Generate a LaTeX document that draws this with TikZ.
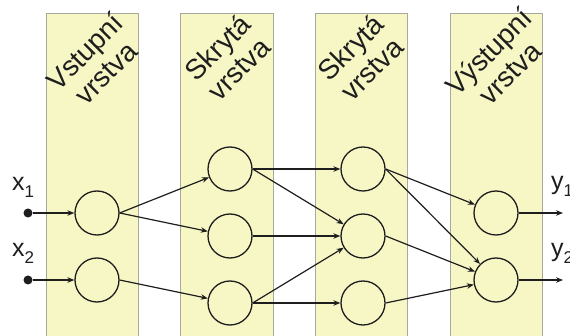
\documentclass[tikz,border=0pt]{standalone}
\usepackage{fontspec}
\setmainfont{Liberation Sans}
\usetikzlibrary{arrows.meta}
\definecolor{colfill}{HTML}{F7F7C6}
\definecolor{colline}{HTML}{A8A89C}
\definecolor{ink}{HTML}{1E1E1E}
\begin{document}
\begin{tikzpicture}[x=1pt,y=-1pt,
  layer/.style={draw=colline,line width=1pt,fill=colfill},
  neuron/.style={circle,draw=ink,line width=1.3pt,fill=colfill,minimum size=44pt,inner sep=0pt},
  inpt/.style={circle,fill=ink,minimum size=9pt,inner sep=0pt},
  conn/.style={draw=ink,line width=1.2pt,-{Stealth[length=7pt,width=5.5pt]}},
  lbl/.style={rotate=45,align=center,text=ink,inner sep=0pt,font=\fontsize{28}{30}\selectfont},
  io/.style={text=ink,font=\fontsize{25}{25}\selectfont,inner sep=0pt}]
\useasboundingbox (0,0) rectangle (570,336);
\fill[white] (0,0) rectangle (570,336);
% layers
\draw[layer] (46,14) rectangle (138,340);
\draw[layer] (180,14) rectangle (273,340);
\draw[layer] (315,14) rectangle (407,340);
\draw[layer] (450,14) rectangle (542,340);
% labels
\node[lbl] (l1) at (95,62) {Vstupní\\vrstva};
\node[lbl] (l2) at (228,58) {Skrytá\\vrstva};
\node[lbl] (l3) at (361,58) {Skrytá\\vrstva};
\node[lbl] (l4) at (499,62) {Výstupní\\vrstva};
% neurons
\node[neuron] (a1) at (97,213) {};
\node[neuron] (a2) at (97,280) {};
\node[neuron] (b1) at (230,169) {};
\node[neuron] (b2) at (230,236) {};
\node[neuron] (b3) at (230,303) {};
\node[neuron] (c1) at (363,169) {};
\node[neuron] (c2) at (363,236) {};
\node[neuron] (c3) at (363,303) {};
\node[neuron] (d1) at (496,213) {};
\node[neuron] (d2) at (496,280) {};
% inputs
\node[inpt] (i1) at (28,213) {};
\node[inpt] (i2) at (28,280) {};
\node[io,anchor=base west] (x1) at (12,191) {x\raisebox{-7pt}{\fontsize{17}{17}\selectfont 1}};
\node[io,anchor=base west] (x2) at (12,257) {x\raisebox{-7pt}{\fontsize{17}{17}\selectfont 2}};
\coordinate (o1) at (563,213);
\coordinate (o2) at (563,280);
\node[io,anchor=base west] (y1) at (551,190) {y\raisebox{-7pt}{\fontsize{17}{17}\selectfont 1}};
\node[io,anchor=base west] (y2) at (551,257) {y\raisebox{-7pt}{\fontsize{17}{17}\selectfont 2}};
% connections
\draw[conn] (i1) -- (a1);
\draw[conn] (i2) -- (a2);
\draw[conn] (a1.east) -- (b1);
\draw[conn] (a1.east) -- (b2);
\draw[conn] (a2.east) -- (b3);
\draw[conn] (b1.east) -- (c1);
\draw[conn] (b1.east) -- (c2);
\draw[conn] (b2.east) -- (c2);
\draw[conn] (b3.east) -- (c2);
\draw[conn] (b3.east) -- (c3);
\draw[conn] (c1.east) -- (d1);
\draw[conn] (c1.east) -- (d2);
\draw[conn] (c2.east) -- (d2);
\draw[conn] (c3.east) -- (d2);
\draw[conn] (d1.east) -- (o1);
\draw[conn] (d2.east) -- (o2);
\end{tikzpicture}
\end{document}
